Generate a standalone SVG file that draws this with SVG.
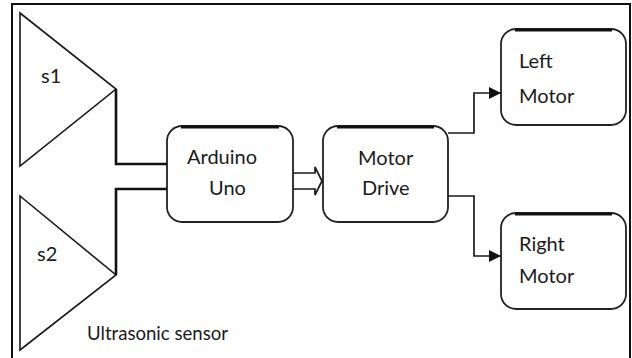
<svg xmlns="http://www.w3.org/2000/svg" width="632" height="358" viewBox="0 0 632 358">
<defs>
<style>
.frame{fill:#fff;stroke:#111;stroke-width:2}
.tri{fill:#fff;stroke:#1a1a1a;stroke-width:1.6}
.box{fill:#fff;stroke:#222;stroke-width:1.8}
.topedge{fill:none;stroke:#111;stroke-width:3}
.thick{fill:none;stroke:#111;stroke-width:2.6}
.thin{fill:none;stroke:#1a1a1a;stroke-width:1.7}
.lbl{font-family:Lato,"Open Sans",sans-serif;font-size:20px;fill:#1a1a1a}
</style>
<marker id="arr" viewBox="0 0 12 12" refX="12" refY="6" markerWidth="12" markerHeight="12" markerUnits="userSpaceOnUse" orient="auto">
<path d="M0,0 L12,6 L0,12 Z" fill="#111"/>
</marker>
</defs>
<rect x="0" y="0" width="632" height="358" fill="#fff"/>
<rect class="frame" x="12" y="4" width="618" height="360"/>

<g id="s1">
<polygon class="tri" points="20,13 116,89 20,166"/>
<text class="lbl" x="41" y="83">s1</text>
</g>
<g id="s2">
<polygon class="tri" points="20,196 116,275 20,350"/>
<text class="lbl" x="37" y="261">s2</text>
</g>
<g id="sensor-label">
<text class="lbl" x="87" y="340" style="font-size:18.6px">Ultrasonic sensor</text>
</g>
<g id="arduino">
<rect class="box" x="167" y="126" width="126" height="96" rx="15"/>
<path class="topedge" d="M181,127 H279"/>
<text class="lbl" x="187" y="164">Arduino</text>
<text class="lbl" x="209" y="195">Uno</text>
</g>
<g id="motordrive">
<rect class="box" x="323" y="126" width="125" height="96" rx="15"/>
<path class="topedge" d="M337,127 H434"/>
<text class="lbl" x="358" y="165">Motor</text>
<text class="lbl" x="362" y="195">Drive</text>
</g>
<g id="leftmotor">
<rect class="box" x="501" y="29" width="125" height="96" rx="15"/>
<path class="topedge" d="M515,30 H612"/>
<text class="lbl" x="519" y="68">Left</text>
<text class="lbl" x="519" y="103">Motor</text>
</g>
<g id="rightmotor">
<rect class="box" x="501" y="213" width="125" height="96" rx="15"/>
<path class="topedge" d="M515,214 H612"/>
<text class="lbl" x="519" y="251">Right</text>
<text class="lbl" x="519" y="283">Motor</text>
</g>

<g id="connectors">
<path class="thick" d="M116,89 V164 H167"/>
<path class="thick" d="M116,275 V189 H167"/>
<polyline class="thin" points="293,173 315,173 315,167 322,181 315,195 315,189 293,189"/>
<path class="thin" d="M448,133 H474 V93 H501" marker-end="url(#arr)"/>
<path class="thin" d="M448,196 H474 V256 H501" marker-end="url(#arr)"/>
</g>
</svg>
